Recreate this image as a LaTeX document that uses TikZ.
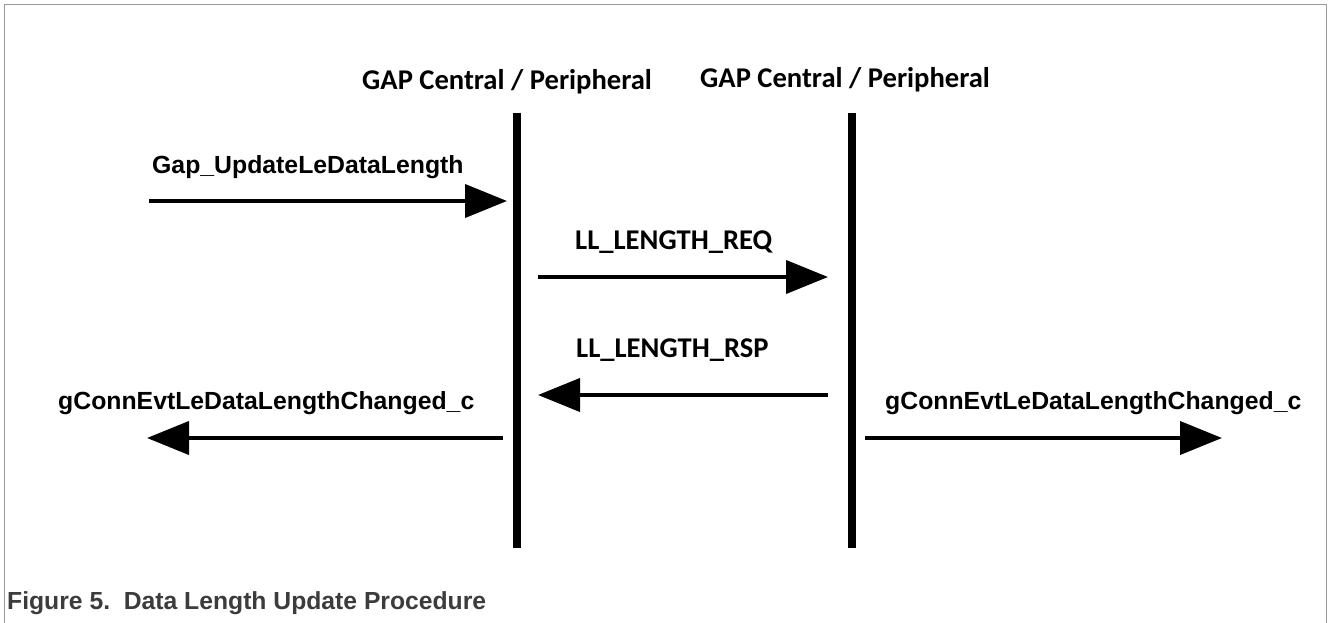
\documentclass[tikz,border=0pt]{standalone}
\usepackage{fontspec}
\usetikzlibrary{arrows.meta}
\newfontfamily\labelfont{Liberation Sans}[BoldFont={Liberation Sans Bold}]
\newfontfamily\headfont{Carlito}[BoldFont={Carlito Bold}]
\definecolor{framegray}{HTML}{9A9A9A}
\definecolor{captiongray}{HTML}{3C3C3C}
\tikzset{
  lifeline/.style={line width=8pt},
  msg/.style={line width=4pt, -{Triangle[length=42pt,width=33pt]}},
  armlabel/.style={anchor=base west, inner sep=0pt, font=\labelfont\bfseries\fontsize{24.8}{28}\selectfont},
  calilabel/.style={anchor=base west, inner sep=0pt, font=\headfont\bfseries\fontsize{28.6}{31}\selectfont},
  captext/.style={anchor=base west, inner sep=0pt, text=captiongray, font=\labelfont\bfseries\fontsize{24.7}{28}\selectfont}
}
\begin{document}
\begin{tikzpicture}[x=1pt,y=-1pt]
\useasboundingbox (0,0) rectangle (1328,623);
% outer frame, open at the bottom
\draw[framegray, line width=1.5pt] (4.5,623) -- (4.5,4.5) -- (1326.5,4.5) -- (1326.5,623);

% lifeline headers
\node[calilabel] (hdrA) at (362,90) {GAP Central / Peripheral};
\node[calilabel] (hdrB) at (700,88) {GAP Central / Peripheral};

% lifelines
\coordinate (aTop) at (516.5,113);
\coordinate (aBot) at (516.5,548);
\coordinate (bTop) at (851.5,113);
\coordinate (bBot) at (851.5,548);
\draw[lifeline] (aTop) -- (aBot);
\draw[lifeline] (bTop) -- (bBot);

% message end points
\coordinate (m1s) at (149,201);
\coordinate (m1e) at (507,201);
\coordinate (m2s) at (538,277);
\coordinate (m2e) at (828,277);
\coordinate (m3s) at (828,395);
\coordinate (m3e) at (538,395);
\coordinate (m4s) at (503,438);
\coordinate (m4e) at (147,438);
\coordinate (m5s) at (865,438);
\coordinate (m5e) at (1222,438);

\draw[msg] (m1s) -- (m1e);
\draw[msg] (m2s) -- (m2e);
\draw[msg] (m3s) -- (m3e);
\draw[msg] (m4s) -- (m4e);
\draw[msg] (m5s) -- (m5e);

% message labels
\node[armlabel] (l1) at (152,173) {Gap\_UpdateLeDataLength};
\node[calilabel] (l2) at (575,249) {LL\_LENGTH\_REQ};
\node[calilabel] (l3) at (576,357) {LL\_LENGTH\_RSP};
\node[armlabel] (l4) at (58,409) {gConnEvtLeDataLengthChanged\_c};
\node[armlabel] (l5) at (885,409) {gConnEvtLeDataLengthChanged\_c};

% caption
\node[captext] (cap) at (7,609) {Figure 5.\ \ Data Length Update Procedure};
\end{tikzpicture}
\end{document}
